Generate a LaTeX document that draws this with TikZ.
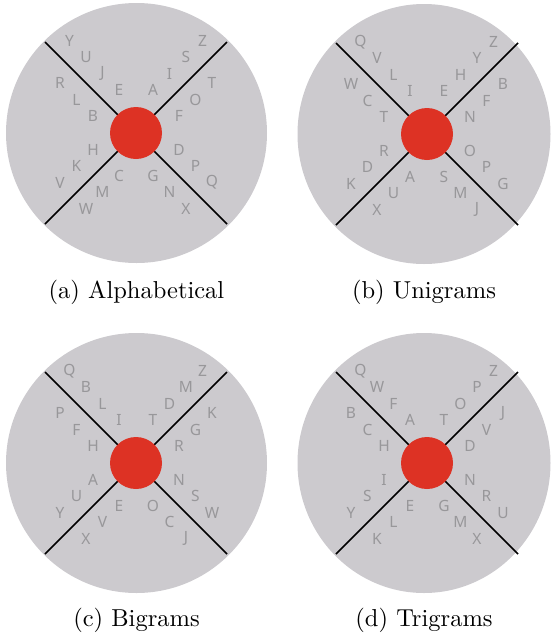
\documentclass[tikz,border=0pt]{standalone}
\usepackage{fontspec}
\newfontfamily\keyfont{Noto Sans}
\usetikzlibrary{calc}
\definecolor{facegray}{RGB}{204,202,206}
\definecolor{keygray}{RGB}{152,151,154}
\definecolor{hubred}{RGB}{221,50,36}

\begin{document}
\begin{tikzpicture}[x=1pt, y=-1pt,
    face/.style={fill=facegray, draw=none},
    hub/.style={circle, fill=hubred, minimum size=52pt, inner sep=0pt},
    key/.style={font=\keyfont\fontsize{15.5}{15.5}\selectfont, text=keygray, inner sep=0pt},
    split/.style={line width=1.6pt, black},
    subcap/.style={font=\fontsize{10}{12}\selectfont, scale=2.45, anchor=base}
]
\useasboundingbox (0,0) rectangle (551,635);

% one watch face per layout: id / hub / face centre / x radius / caption / key groups
\foreach \id/\hx/\hy/\fx/\rx/\capy/\name/\tl/\tr/\lu/\ll/\ru/\rl/\bl/\br in {
    a/136/133/136.5/130.5/298/Alphabetical/{E,J,U,Y}/{A,I,S,Z}/{B,L,R}/{H,K,V}/{F,O,T}/{D,P,Q}/{C,M,W}/{G,N,X},
    b/427/134/424/126.5/298/Unigrams/{I,L,V,Q}/{E,H,Y,Z}/{T,C,W}/{R,D,K}/{N,F,B}/{O,P,G}/{A,U,X}/{S,M,J},
    c/136/463/136.5/130.5/626/Bigrams/{I,L,B,Q}/{T,D,M,Z}/{H,F,P}/{A,U,Y}/{R,G,K}/{N,S,W}/{E,V,X}/{O,C,J},
    d/427/463/424/126.5/626/Trigrams/{A,F,W,Q}/{T,O,P,Z}/{H,C,B}/{I,S,Y}/{D,V,J}/{N,R,U}/{E,L,K}/{G,M,X}} {
  \fill[face] (\fx,\hy) ellipse [x radius=\rx, y radius=130];
  \coordinate (\id-c) at (\hx,\hy);
  \coordinate (\id-nw) at ($(\id-c)+(-91,-91)$);
  \coordinate (\id-ne) at ($(\id-c)+(91,-91)$);
  \coordinate (\id-sw) at ($(\id-c)+(-91,91)$);
  \coordinate (\id-se) at ($(\id-c)+(91,91)$);
  \draw[split] (\id-nw) -- (\id-se);
  \draw[split] (\id-ne) -- (\id-sw);
  \node[hub] (\id-hub) at (\id-c) {};
  % keys, counted outwards from the hub
  \foreach \ch [count=\k from 0] in \tl
    \node[key] (\id-tl-\k) at ($(\id-c)+({-17-16.5*\k},{-43-16.3*\k})$) {\ch};
  \foreach \ch [count=\k from 0] in \tr
    \node[key] (\id-tr-\k) at ($(\id-c)+({17+16.5*\k},{-43-16.3*\k})$) {\ch};
  \foreach \ch [count=\k from 0] in \lu
    \node[key] (\id-lu-\k) at ($(\id-c)+({-43-16.5*\k},{-17-16.3*\k})$) {\ch};
  \foreach \ch [count=\k from 0] in \ll
    \node[key] (\id-ll-\k) at ($(\id-c)+({-43-16.5*\k},{17+16.3*\k})$) {\ch};
  \foreach \ch [count=\k from 0] in \ru
    \node[key] (\id-ru-\k) at ($(\id-c)+({43+16.5*\k},{-17-16.3*\k})$) {\ch};
  \foreach \ch [count=\k from 0] in \rl
    \node[key] (\id-rl-\k) at ($(\id-c)+({43+16.5*\k},{17+16.3*\k})$) {\ch};
  \foreach \ch [count=\k from 0] in \bl
    \node[key] (\id-bl-\k) at ($(\id-c)+({-17-16.5*\k},{43+16.3*\k})$) {\ch};
  \foreach \ch [count=\k from 0] in \br
    \node[key] (\id-br-\k) at ($(\id-c)+({17+16.5*\k},{43+16.3*\k})$) {\ch};
  \node[subcap] (cap-\id) at (\fx,\capy) {(\id)\ \name};
}
\end{tikzpicture}
\end{document}
